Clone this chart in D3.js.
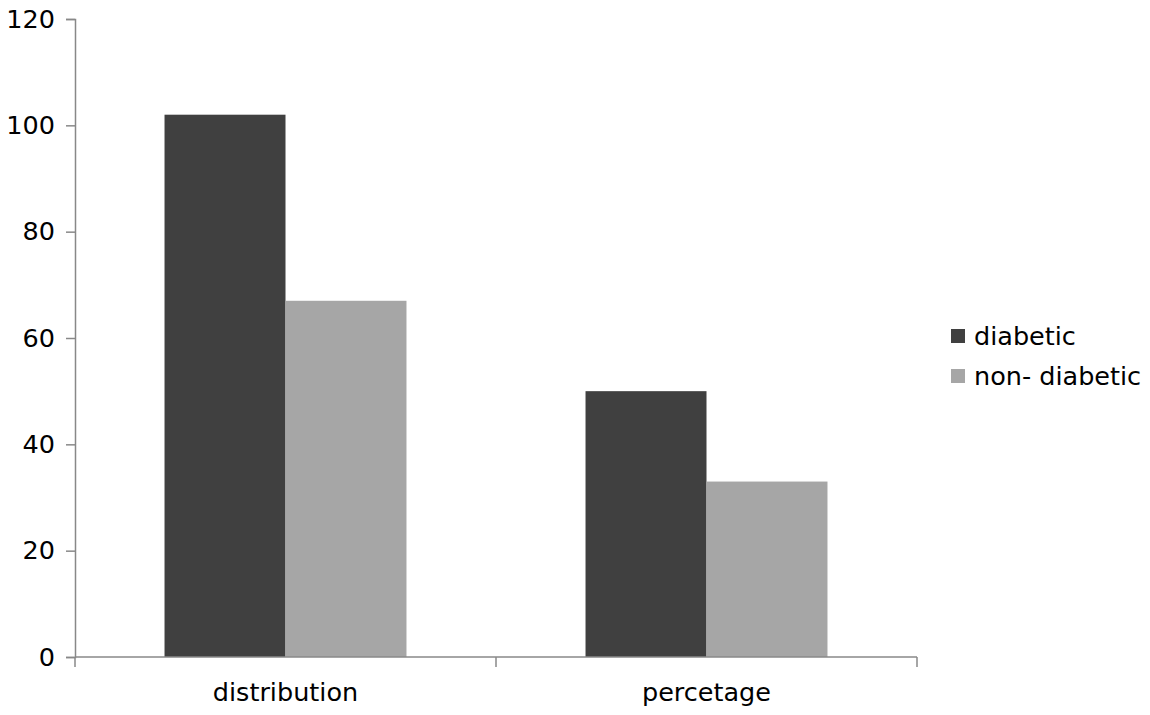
<!DOCTYPE html>
<html><head><meta charset="utf-8">
<script src="https://cdn.jsdelivr.net/npm/d3@7"></script>
<style>body{margin:0;background:#fff}svg{display:block;font-family:"DejaVu Sans",sans-serif}</style>
</head><body><svg id="c" width="1150" height="715"></svg>
<script>
const categories = ["distribution", "percetage"];
const seriesNames = ["diabetic", "non- diabetic"];
const diabetic = [102, 50];
const nonDiabetic = [67, 33];
const yTicks = [0, 20, 40, 60, 80, 100, 120];
const colors = ["#404040", "#a6a6a6"];

const svg = d3.select("#c");
const mLeft = 75, mRight = 917, mTop = 19, mBottom = 657;
const fs = 25.5;
const y = d3.scaleLinear().domain([0, 120]).range([mBottom, mTop]);
const x = d3.scaleBand().domain(categories).range([mLeft, mRight]);
const inner = d3.scaleBand().domain(seriesNames).range([0, x.bandwidth()]).paddingOuter(0.74).paddingInner(0);
const data = categories.map((c, i) => ({c, vals: [diabetic[i], nonDiabetic[i]]}));

const g = svg.append("g");
data.forEach(d => {
  d.vals.forEach((v, j) => {
    g.append("rect")
      .attr("x", x(d.c) + inner(seriesNames[j]))
      .attr("width", inner.bandwidth())
      .attr("y", y(v))
      .attr("height", y(0) - y(v))
      .attr("fill", colors[j]);
  });
});

const axisColor = "#888";
const ya = svg.append("g").attr("transform", `translate(${mLeft},0)`)
  .call(d3.axisLeft(y).tickValues(yTicks).tickSize(9).tickPadding(11));
ya.select(".domain").attr("stroke", axisColor).attr("stroke-width", 1.5);
ya.selectAll(".tick line").attr("stroke", axisColor).attr("stroke-width", 1.5);
ya.selectAll("text").attr("font-size", fs).attr("fill", "#000").attr("font-family", "DejaVu Sans");

const xa = svg.append("g").attr("transform", `translate(0,${mBottom})`);
xa.append("line").attr("x1", mLeft).attr("x2", mRight).attr("y1", 0).attr("y2", 0)
  .attr("stroke", axisColor).attr("stroke-width", 1.5);
const xTickPos = [mLeft, ...categories.map(c => x(c) + x.bandwidth())];
xTickPos.forEach(p => {
  xa.append("line").attr("x1", p).attr("x2", p).attr("y1", 0).attr("y2", 10)
    .attr("stroke", axisColor).attr("stroke-width", 1.5);
});
categories.forEach(c => {
  xa.append("text").attr("x", x(c) + x.bandwidth() / 2).attr("y", 44)
    .attr("text-anchor", "middle").attr("font-size", fs).attr("fill", "#000").text(c);
});

const lg = svg.append("g");
seriesNames.forEach((s, i) => {
  const yy = 329 + i * 40;
  lg.append("rect").attr("x", 951).attr("y", yy).attr("width", 14).attr("height", 14).attr("fill", colors[i]);
  lg.append("text").attr("x", 974).attr("y", yy + 16).attr("font-size", fs).attr("fill", "#000").text(s);
});
</script></body></html>
